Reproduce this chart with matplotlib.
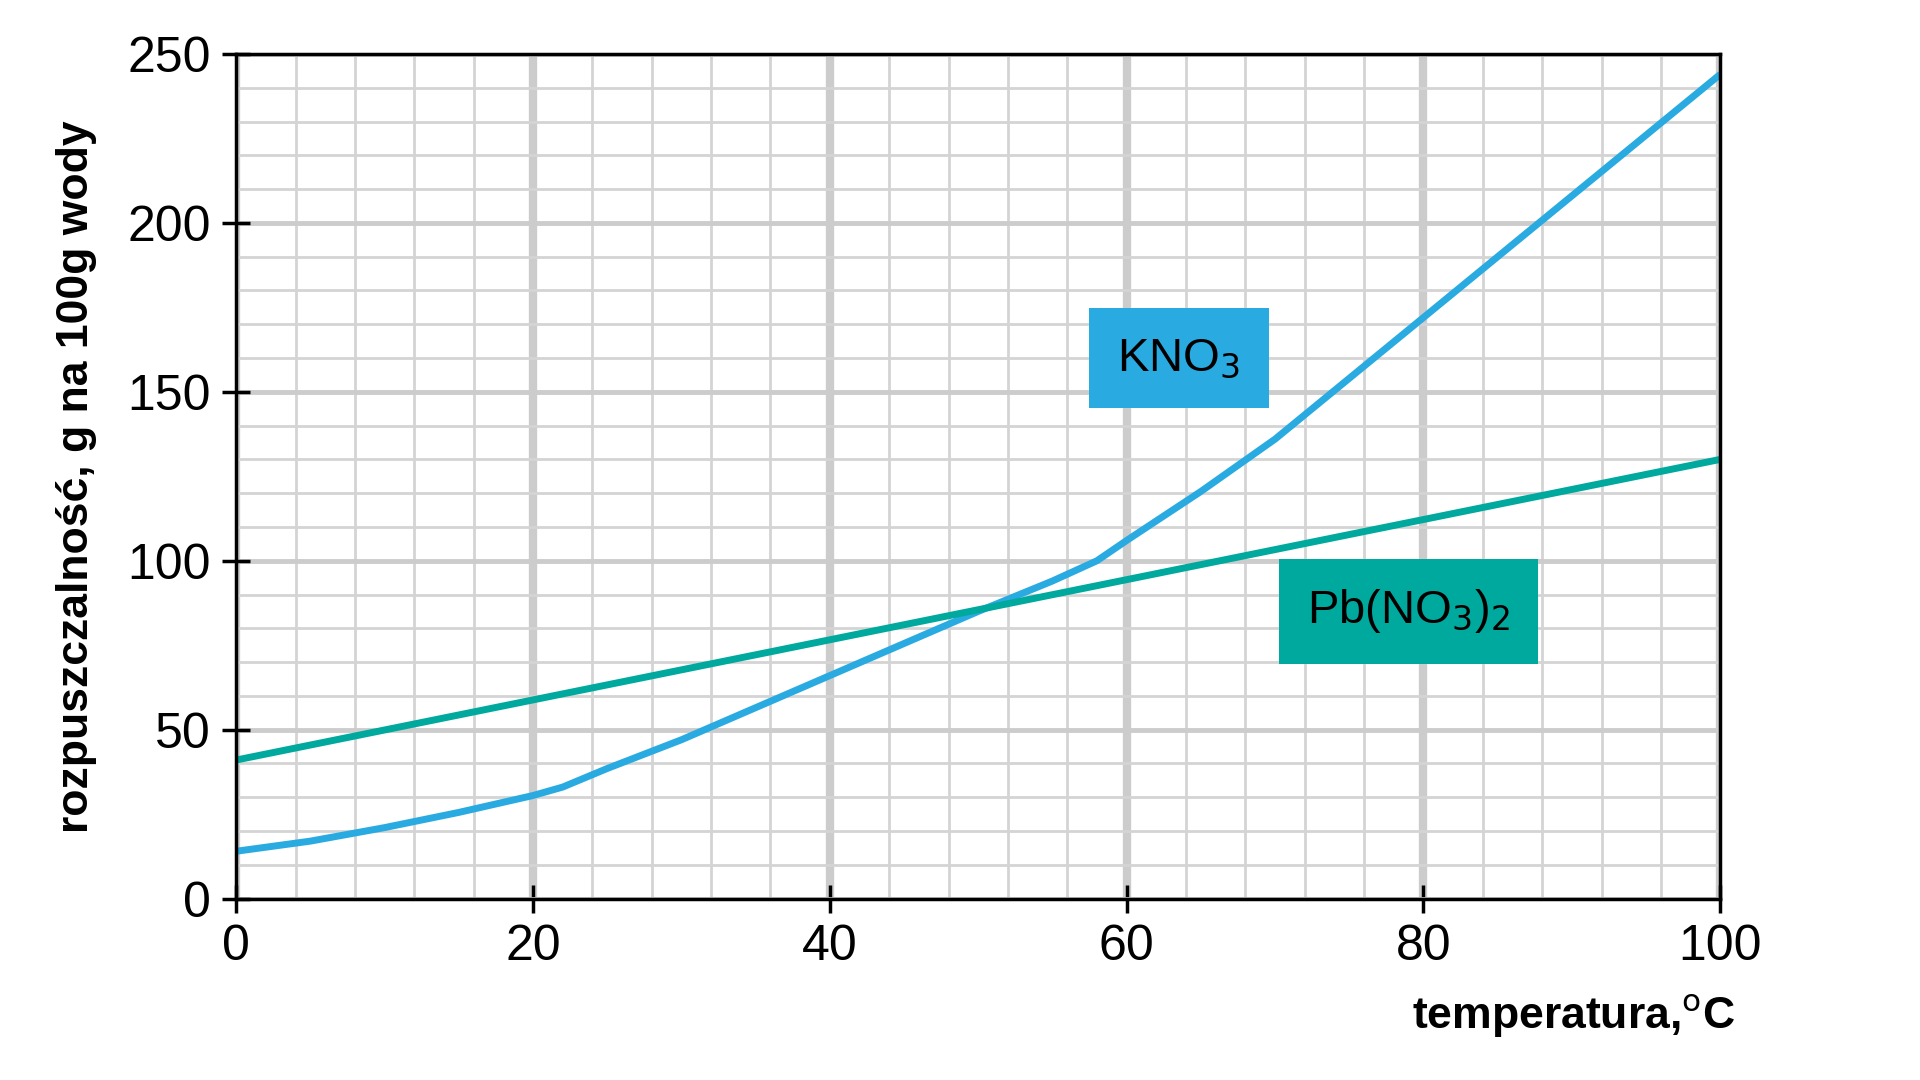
import numpy as np
import matplotlib.pyplot as plt
from matplotlib.ticker import MultipleLocator

plt.rcParams['font.family'] = ['Liberation Sans', 'DejaVu Sans']

# solubility curves, g per 100 g water
kno3_t = [0, 5, 10, 15, 20, 22, 25, 30, 35, 40, 45, 50, 55, 58, 60, 65, 70, 75, 80, 90, 100]
kno3_s = [14, 17, 21, 25.5, 30.5, 33, 38.5, 47, 56.5, 66, 75.5, 85, 94, 100, 106, 120.5, 136, 154, 172, 208, 244]
pb_t = [0, 100]
pb_s = [41, 130]

BLUE = "#29abe2"
GREEN = "#00a99d"

fig = plt.figure(figsize=(19.2, 10.8), dpi=100)
ax = fig.add_axes([0.123, 0.168, 0.773, 0.782])

ax.set_xlim(0, 100)
ax.set_ylim(0, 250)
ax.xaxis.set_major_locator(MultipleLocator(20))
ax.xaxis.set_minor_locator(MultipleLocator(4))
ax.yaxis.set_major_locator(MultipleLocator(50))
ax.yaxis.set_minor_locator(MultipleLocator(10))
ax.grid(which="minor", color="#d4d4d4", lw=2)
ax.grid(which="major", axis="x", color="#cccccc", lw=6)
ax.grid(which="major", axis="y", color="#cccccc", lw=3.5)
ax.set_axisbelow(True)
for s in ax.spines.values():
    s.set_linewidth(2.5)
ax.tick_params(which="major", direction="inout", length=20, width=2.5, labelsize=36, pad=8)
ax.tick_params(which="minor", length=0)

ax.plot(kno3_t, kno3_s, color=BLUE, lw=5, solid_capstyle="butt")
ax.plot(pb_t, pb_s, color=GREEN, lw=5, solid_capstyle="butt")

ax.text(63.5, 160, r"KNO$_3$", fontsize=34, ha="center", va="center",
        bbox=dict(boxstyle="square,pad=0.6", fc=BLUE, ec="none"))
ax.text(79, 85, r"Pb(NO$_3$)$_2$", fontsize=34, ha="center", va="center",
        bbox=dict(boxstyle="square,pad=0.6", fc=GREEN, ec="none"))

ax.set_ylabel("rozpuszczalność, g na 100g wody", fontsize=32, fontweight="bold", labelpad=22)
ax.text(1.01, -0.14, r"temperatura,$^{\rm o}$C", transform=ax.transAxes,
        fontsize=32, fontweight="bold", ha="right", va="center")

fig.savefig("out.png", dpi=100)
